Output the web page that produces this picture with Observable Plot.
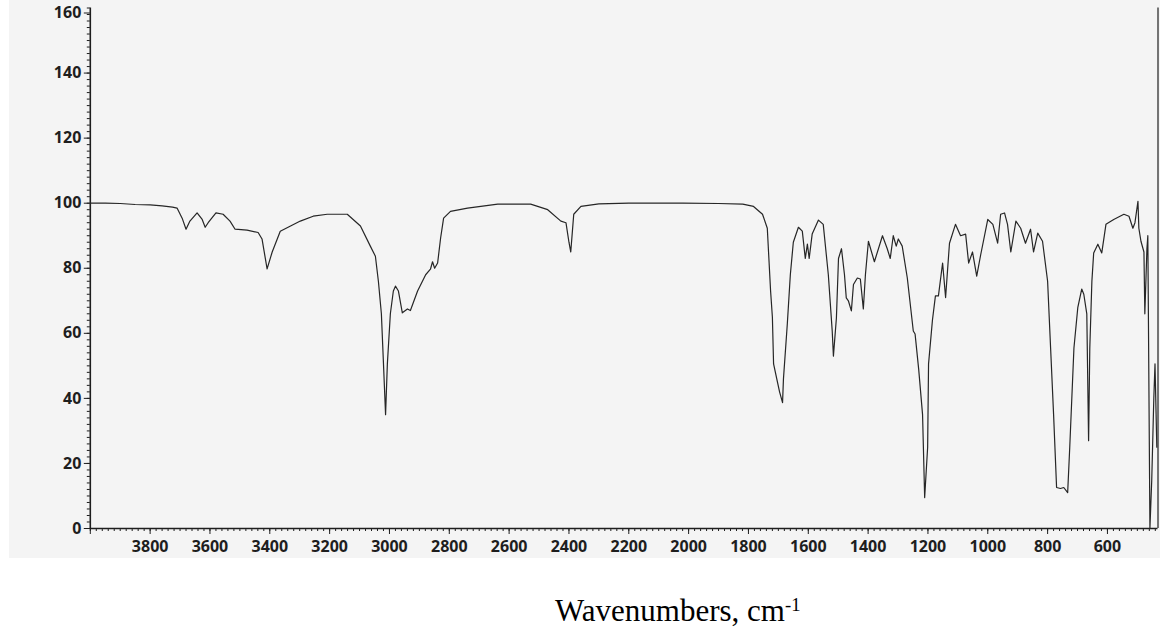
<!DOCTYPE html>
<html>
<head>
<meta charset="utf-8">
<script src="https://cdn.jsdelivr.net/npm/d3@7"></script>
<script src="https://cdn.jsdelivr.net/npm/@observablehq/plot@0.6"></script>
<style>
  body { margin: 0; background: #ffffff; width: 1160px; height: 632px; position: relative; overflow: hidden; }
  #chart { position: absolute; left: 9px; top: 0px; }
  #xlabel { position: absolute; left: 555px; top: 595px; font-family: "Liberation Serif", "Times New Roman", serif; font-size: 31px; line-height: 1; color: #000; white-space: nowrap; }
  #xlabel sup { font-size: 0.6em; vertical-align: 0.55em; line-height: 0; }
</style>
</head>
<body>
<div id="chart"></div>
<div id="xlabel">Wavenumbers, cm<sup>-1</sup></div>
<script>
// Wavenumber (cm-1) and transmittance
const wavenumbers = [
  4000, 3950, 3900, 3850, 3800, 3760, 3725, 3710, 3693, 3680,
  3667, 3643, 3626, 3616, 3606, 3580, 3556, 3533, 3516, 3476,
  3439, 3426, 3409, 3392, 3365, 3298, 3255, 3208, 3141, 3097,
  3064, 3047, 3037, 3027, 3020, 3013, 3007, 2997, 2987, 2980,
  2970, 2957, 2940, 2930, 2906, 2879, 2863, 2856, 2849, 2839,
  2829, 2819, 2796, 2739, 2638, 2528, 2471, 2427, 2410, 2400,
  2394, 2384, 2360, 2300, 2200, 2100, 2020, 1900, 1819, 1783,
  1753, 1737, 1726, 1720, 1716, 1703, 1696, 1686, 1683, 1670,
  1660, 1650, 1633, 1620, 1610, 1603, 1597, 1587, 1566, 1550,
  1533, 1520, 1516, 1506, 1499, 1489, 1479, 1473, 1466, 1456,
  1449, 1436, 1426, 1416, 1409, 1399, 1379, 1352, 1336, 1326,
  1316, 1306, 1299, 1286, 1269, 1249, 1243, 1231, 1218, 1211,
  1201, 1198, 1185, 1175, 1165, 1151, 1141, 1128, 1108, 1091,
  1074, 1064, 1051, 1037, 1024, 1000, 983, 967, 957, 944,
  934, 923, 906, 890, 874, 857, 847, 833, 817, 800,
  790, 780, 770, 757, 746, 733, 726, 712, 699, 686,
  679, 669, 663, 659, 652, 646, 632, 619, 605, 579,
  545, 528, 515, 508, 498, 495, 488, 478, 475, 468,
  465, 458, 452, 445, 441, 435
];
const transmittance = [
  100, 100, 99.9, 99.6, 99.5, 99.2, 98.8, 98.5, 95.4, 92,
  94.5, 97, 95, 92.6, 94, 97, 96.6, 94.5, 92, 91.7,
  91, 89, 79.8, 85, 91.4, 94.5, 96, 96.6, 96.6, 93,
  86.8, 83.7, 76, 66, 50.6, 35, 50.6, 66, 73, 74.5,
  73, 66.3, 67.5, 67, 73, 78, 79.7, 82, 80, 81.6,
  89.3, 95.4, 97.5, 98.5, 99.7, 99.7, 98, 94.5, 94, 88,
  85, 96.6, 99, 99.8, 100, 100, 100, 99.9, 99.7, 99,
  96.6, 92.3, 73, 65, 50.6, 45, 42, 38.7, 46, 63,
  78, 88, 92.6, 91.4, 83, 87.4, 83, 90.5, 94.8, 93.5,
  78, 60.7, 53, 64.7, 83, 86, 78, 70.9, 70, 66.9,
  75, 77, 76.7, 67.5, 78, 88.3, 82, 90, 86, 83,
  90, 86.8, 89, 86.8, 77, 60.7, 59.8, 49, 35, 9.5,
  25, 50.6, 64, 71.5, 71.5, 81.6, 71, 87.7, 93.5, 90,
  90.5, 81.6, 85, 77.6, 84, 95, 93.5, 87.7, 96.6, 97,
  93.5, 85, 94.5, 92.3, 87.7, 92, 85, 90.8, 88.3, 76,
  55.5, 35, 12.6, 12.3, 12.6, 11, 25, 55.5, 68, 73.6,
  72, 66, 27, 55.5, 76, 84.7, 87.4, 84.7, 93.5, 95,
  96.6, 96, 92.3, 94, 100.6, 92.3, 88.3, 85, 66, 86,
  90, 0, 14.7, 40, 50.6, 25
];

// Axis ticks and labels
const xTickValues = [4000, 3800, 3600, 3400, 3200, 3000, 2800, 2600, 2400, 2200, 2000, 1800, 1600, 1400, 1200, 1000, 800, 600];
const xTickLabels = ["", "3800", "3600", "3400", "3200", "3000", "2800", "2600", "2400", "2200", "2000", "1800", "1600", "1400", "1200", "1000", "800", "600"];
const yTickValues = [0, 20, 40, 60, 80, 100, 120, 140, 160];
const yTickLabels = ["0", "20", "40", "60", "80", "100", "120", "140", "160"];
const xDomain = [4000, 431];
const yDomain = [0, 160];

const xMinor = d3.range(4000, 430, -20);
const yMinor = d3.range(0, 161, 2);
const xLabelMap = new Map(xTickValues.map((v, i) => [v, xTickLabels[i]]));
const yLabelMap = new Map(yTickValues.map((v, i) => [v, yTickLabels[i]]));
const yTop = yDomain[1];

const ink = "#1e1e1e";
const tickFont = { fontFamily: "Noto Sans, DejaVu Sans, sans-serif", fontSize: 16, fontWeight: "bold", fill: ink };

const chart = Plot.plot({
  width: 1151,
  height: 558,
  marginLeft: 80.8,
  marginRight: 2.5,
  marginTop: 7.5,
  marginBottom: 30,
  style: { background: "#f4f4f4", color: ink },
  x: { domain: xDomain },
  y: { domain: yDomain },
  marks: [
    Plot.axisX({ ticks: xMinor, tickSize: 3, tickFormat: () => "", label: null, stroke: ink }),
    Plot.axisX({ ticks: xTickValues, tickSize: 6, tickPadding: 6, tickFormat: d => xLabelMap.get(d), label: null, stroke: ink, ...tickFont }),
    Plot.axisY({ ticks: yMinor, tickSize: 3, tickFormat: () => "", label: null, stroke: ink }),
    Plot.axisY({ ticks: yTickValues.filter(v => v !== yTop), tickSize: 6, tickPadding: 3, tickFormat: d => yLabelMap.get(d), label: null, stroke: ink, ...tickFont }),
    Plot.axisY({ ticks: [yTop], tickSize: 6, tickPadding: 3, tickFormat: d => yLabelMap.get(d), label: null, stroke: ink, dy: 5, ...tickFont }),
    Plot.ruleX([xDomain[0]], { stroke: ink, strokeWidth: 1.6 }),
    Plot.ruleX([xDomain[1]], { stroke: ink, strokeWidth: 1.2 }),
    Plot.ruleY([yDomain[0]], { stroke: ink, strokeWidth: 1.6 }),
    Plot.line(wavenumbers, { x: wavenumbers, y: transmittance, stroke: "#262626", strokeWidth: 1.2 })
  ]
});
document.getElementById("chart").appendChild(chart);
</script>
</body>
</html>
